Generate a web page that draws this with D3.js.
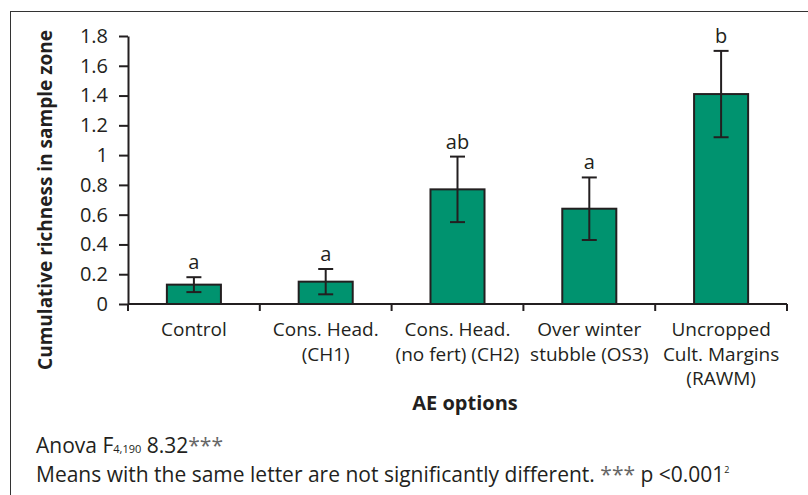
<!DOCTYPE html>
<html>
<head>
  <meta charset="utf-8">
  <style>
    * { margin: 0; padding: 0; box-sizing: border-box; }
    body { background: #fff; font-family: 'Open Sans', sans-serif; }
    svg { display: block; }
  </style>
</head>
<body>
  <div id="chart"></div>
  <script src="https://cdn.jsdelivr.net/npm/d3@7"></script>
  <script>
    // values
    const categories = [
      ['Control'],
      ['Cons. Head.', '(CH1)'],
      ['Cons. Head.', '(no fert) (CH2)'],
      ['Over winter', 'stubble (OS3)'],
      ['Uncropped', 'Cult. Margins', '(RAWM)']
    ];
    const means = [0.13, 0.15, 0.77, 0.64, 1.41];
    const errors = [0.05, 0.085, 0.22, 0.21, 0.29];
    const letters = ['a', 'a', 'ab', 'a', 'b'];
    const yTicks = [0, 0.2, 0.4, 0.6, 0.8, 1, 1.2, 1.4, 1.6, 1.8];

    (function() {
      const width = 808, height = 495;
      const ink = '#231f20';
      const barFill = '#00936f';
      const font = "'Open Sans', sans-serif";
      const plot = { left: 128, right: 787, top: 36, bottom: 304 };

      const svg = d3.select('#chart').append('svg')
        .attr('width', width).attr('height', height)
        .attr('viewBox', [0, 0, width, height]);

      // frame (runs off the right and bottom edges in the reference)
      svg.append('rect')
        .attr('x', 10.5).attr('y', 11.5)
        .attr('width', 820).attr('height', 520)
        .attr('fill', 'none').attr('stroke', '#333').attr('stroke-width', 1);

      const idx = d3.range(categories.length);
      const x = d3.scaleBand().domain(idx).range([plot.left, plot.right])
        .paddingInner(0.59).paddingOuter(0.295);
      const y = d3.scaleLinear().domain([0, 1.8]).range([plot.bottom, plot.top]);

      // y axis
      const yAxis = svg.append('g')
        .attr('transform', 'translate(' + plot.left + ',0)')
        .call(d3.axisLeft(y).tickValues(yTicks).tickSize(9).tickPadding(11).tickSizeOuter(0)
          .tickFormat(function(d) { return d3.format('~g')(d); }));
      yAxis.select('.domain').attr('stroke', ink).attr('stroke-width', 2);
      yAxis.selectAll('.tick line').attr('stroke', ink).attr('stroke-width', 2);
      yAxis.selectAll('.tick text')
        .attr('font-family', font).attr('font-size', 20).attr('fill', ink);

      // bars
      svg.append('g').selectAll('rect')
        .data(idx)
        .join('rect')
        .attr('x', function(i) { return x(i); })
        .attr('y', function(i) { return y(means[i]); })
        .attr('width', x.bandwidth())
        .attr('height', function(i) { return y(0) - y(means[i]); })
        .attr('fill', barFill)
        .attr('stroke', ink).attr('stroke-width', 2);

      // x axis line + category boundary ticks
      const step = x.step();
      const bounds = idx.map(function(i) { return x(i) - step * x.paddingInner() / 2; }).concat([plot.right]);
      const xAxis = svg.append('g');
      xAxis.append('line')
        .attr('x1', plot.left).attr('x2', plot.right)
        .attr('y1', y(0)).attr('y2', y(0))
        .attr('stroke', ink).attr('stroke-width', 2);
      xAxis.selectAll('line.tick')
        .data(bounds)
        .join('line').attr('class', 'tick')
        .attr('x1', function(d) { return d; }).attr('x2', function(d) { return d; })
        .attr('y1', y(0)).attr('y2', y(0) + 7)
        .attr('stroke', ink).attr('stroke-width', 2);

      // category labels
      const catText = svg.append('g').selectAll('text')
        .data(idx)
        .join('text')
        .attr('x', function(i) { return x(i) + x.bandwidth() / 2; })
        .attr('y', 336)
        .attr('text-anchor', 'middle')
        .attr('font-family', font).attr('font-size', 19).attr('fill', ink);
      catText.selectAll('tspan')
        .data(function(i) { return categories[i].map(function(line) { return { i: i, line: line }; }); })
        .join('tspan')
        .attr('x', function(d) { return x(d.i) + x.bandwidth() / 2; })
        .attr('dy', function(d, k) { return k === 0 ? 0 : 24.5; })
        .text(function(d) { return d.line; });

      // error bars
      const cap = 7.5;
      const err = svg.append('g').attr('stroke', ink).attr('stroke-width', 2);
      idx.forEach(function(i) {
        const cx = x(i) + x.bandwidth() / 2;
        const hi = y(means[i] + errors[i]), lo = y(means[i] - errors[i]);
        err.append('line').attr('x1', cx).attr('x2', cx).attr('y1', hi).attr('y2', lo);
        err.append('line').attr('x1', cx - cap).attr('x2', cx + cap).attr('y1', hi).attr('y2', hi);
        err.append('line').attr('x1', cx - cap).attr('x2', cx + cap).attr('y1', lo).attr('y2', lo);
      });

      // significance letters
      svg.append('g').selectAll('text')
        .data(idx)
        .join('text')
        .attr('x', function(i) { return x(i) + x.bandwidth() / 2; })
        .attr('y', function(i) { return y(means[i] + errors[i]) - 8; })
        .attr('text-anchor', 'middle')
        .attr('font-family', font).attr('font-size', 20).attr('fill', ink)
        .text(function(i) { return letters[i]; });

      // axis titles
      svg.append('text')
        .attr('x', 465).attr('y', 410)
        .attr('text-anchor', 'middle')
        .attr('font-family', font).attr('font-weight', 'bold')
        .attr('font-size', 20).attr('fill', ink)
        .text('AE options');
      svg.append('text')
        .attr('transform', 'translate(52,' + 200 + ') rotate(-90)')
        .attr('text-anchor', 'middle')
        .attr('font-family', font).attr('font-weight', 'bold')
        .attr('font-size', 19).attr('fill', ink)
        .text('Cumulative richness in sample zone');

      // notes under the chart
      const note1 = svg.append('text')
        .attr('x', 36).attr('y', 453)
        .attr('font-family', font).attr('font-size', 21).attr('fill', ink);
      note1.append('tspan').text('Anova F');
      note1.append('tspan').attr('font-size', 11).text('4,190');
      note1.append('tspan').text(' 8.32');
      note1.append('tspan').attr('fill', '#666').text('***');

      const note2 = svg.append('text')
        .attr('x', 36).attr('y', 482)
        .attr('font-family', font).attr('font-size', 21).attr('fill', ink);
      note2.append('tspan').text('Means with the same letter are not significantly different. ');
      note2.append('tspan').attr('fill', '#666').text('***');
      note2.append('tspan').text(' p <0.001');
      note2.append('tspan').attr('font-size', 9).attr('dy', -9).text('2');
    })();
  </script>
</body>
</html>
